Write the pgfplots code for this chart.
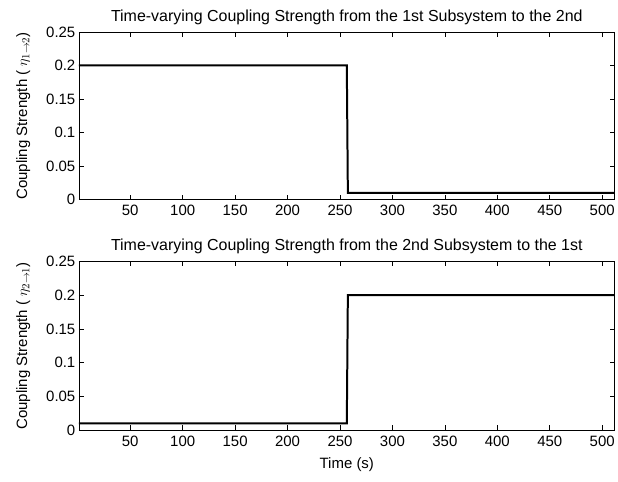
\documentclass[border=0pt]{standalone}
\usepackage{pgfplots}
\pgfplotsset{compat=1.18}
\usepackage{fontspec}
\setmainfont{Liberation Sans}
\begin{document}
\begin{tikzpicture}
\path (0pt,0pt) rectangle (618pt,482pt);
\pgfplotsset{
  myax/.style={
    scale only axis, width=537pt,
    xmin=1, xmax=512, ymin=0, ymax=0.25,
    xtick={50,100,...,500},
    ytick={0,0.05,0.1,0.15,0.2,0.25},
    yticklabels={0,0.05,0.1,0.15,0.2,0.25},
    /pgf/number format/assume math mode=true,
    tick align=inside, major tick length=5pt,
    tick style={black, line width=0.6pt},
    axis line style={black, line width=0.6pt},
    ticklabel style={font=\fontsize{15}{17}\selectfont},
    xticklabel style={yshift=-2pt},
    title style={font=\fontsize{16}{18}\selectfont, yshift=-2pt},
    label style={font=\fontsize{15}{17}\selectfont},
    ylabel style={yshift=9pt},
    xlabel style={yshift=-5pt},
  }
}
\begin{axis}[myax, at={(79pt,282pt)}, anchor=south west, height=168pt,
  title={Time-varying Coupling Strength from the 1st Subsystem to the 2nd},
  ylabel={Coupling Strength ( $\eta_{1\rightarrow 2}$)}]
\addplot[black, line width=2pt, no marks] coordinates {(1,0.2) (256.5,0.2) (257.5,0.01) (512,0.01)};
\end{axis}
\begin{axis}[myax, at={(79pt,51pt)}, anchor=south west, height=169pt,
  title={Time-varying Coupling Strength from the 2nd Subsystem to the 1st},
  ylabel={Coupling Strength ( $\eta_{2\rightarrow 1}$)},
  xlabel={Time (s)}]
\addplot[black, line width=2pt, no marks] coordinates {(1,0.01) (256.5,0.01) (257.5,0.2) (512,0.2)};
\end{axis}
\end{tikzpicture}
\end{document}
